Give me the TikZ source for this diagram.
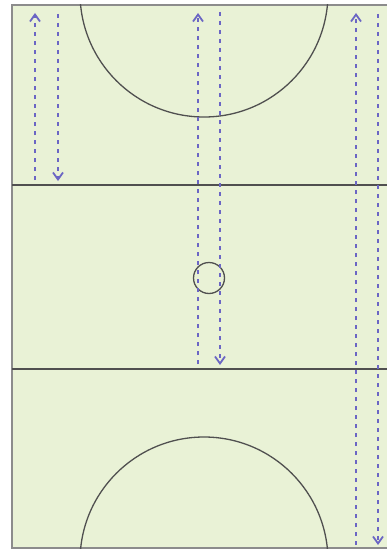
\documentclass[tikz,border=0pt]{standalone}
\usepackage{tikz}
\usetikzlibrary{arrows.meta}
\definecolor{courtgreen}{HTML}{E9F2D6}
\definecolor{markgrey}{HTML}{505050}
\definecolor{edgegrey}{HTML}{8C8C8C}
\definecolor{runblue}{HTML}{6B66C4}

\begin{document}
\begin{tikzpicture}[
  x=1pt, y=-1pt,
  courtline/.style={markgrey, line width=1.3pt},
  run/.style={runblue, line width=1.6pt, dash pattern=on 4pt off 5pt, -{Straight Barb[length=7pt, width=10pt, line width=1.8pt]}},
  ring/.style={circle, draw=markgrey, line width=1.3pt, minimum width=31pt, minimum height=29pt, inner sep=0pt}
]
\useasboundingbox (0,0) rectangle (387,551);

% Court
\fill[courtgreen] (12,5) rectangle (387,548);
\draw[edgegrey, line width=1.5pt] (387,5) -- (12,5) -- (12,548) -- (387,548);

% Thirds
\draw[courtline] (12,185) -- (387,185);
\draw[courtline] (12,369) -- (387,369);

% Arcs
\begin{scope}
  \clip (12,5) rectangle (387,548);
  \draw[courtline] (204,-7) circle (124);
  \draw[courtline] (204,561) circle (124);
\end{scope}

% Centre circle
\node[ring] (ctr) at (209,278) {};

% Runs
\coordinate (l1) at (35,180);  \coordinate (l1t) at (35,13);
\coordinate (l2) at (58,14);   \coordinate (l2b) at (58,181);
\coordinate (m1) at (198,364); \coordinate (m1t) at (198,13);
\coordinate (m2) at (220,12);  \coordinate (m2b) at (220,365);
\coordinate (r1) at (356,545); \coordinate (r1t) at (356,13);
\coordinate (r2) at (378,14);  \coordinate (r2b) at (378,545);
\draw[run] (l1) -- (l1t);
\draw[run] (l2) -- (l2b);
\draw[run] (m1) -- (m1t);
\draw[run] (m2) -- (m2b);
\draw[run] (r1) -- (r1t);
\draw[run] (r2) -- (r2b);
\end{tikzpicture}
\end{document}
